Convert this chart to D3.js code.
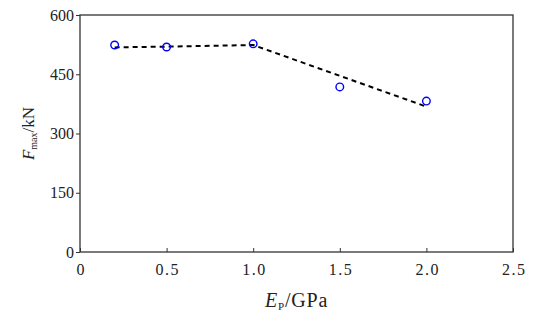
<!DOCTYPE html>
<html><head><meta charset="utf-8">
<script src="https://cdn.jsdelivr.net/npm/d3@7"></script>
<style>body{margin:0;background:#fff}svg{display:block}text{font-family:"Liberation Serif","DejaVu Serif",serif;fill:#222}</style>
</head><body>
<svg id="c" width="549" height="323"></svg>
<script>
const pointX = [0.2, 0.5, 1.0, 1.5, 2.0];
const pointY = [524, 519, 527, 418, 382];
const lineX = [0.2, 0.5, 1.0, 2.0];
const lineY = [518, 520, 524, 368];
const xTicks = [0, 0.5, 1.0, 1.5, 2.0, 2.5];
const yTicks = [0, 150, 300, 450, 600];

const svg = d3.select("#c");
const L = 80, R = 513, T = 15, B = 252;
const x = d3.scaleLinear().domain([0, 2.5]).range([L, R]);
const y = d3.scaleLinear().domain([0, 600]).range([B, T]);

// frame
svg.append("rect").attr("x", L).attr("y", T).attr("width", R - L).attr("height", B - T)
  .attr("fill", "none").attr("stroke", "#333").attr("stroke-width", 1.3);

// x axis (ticks inward)
const xa = svg.append("g").attr("transform", `translate(0,${B})`)
  .call(d3.axisBottom(x).tickValues(xTicks).tickSizeInner(-4).tickSizeOuter(0).tickPadding(12)
    .tickFormat(d => d === 0 ? "0" : d3.format(".1f")(d)));
xa.select(".domain").remove();
xa.selectAll("line").attr("stroke", "#333");
xa.selectAll("text").attr("font-size", 16).attr("fill", "#222").attr("letter-spacing", 1.5).attr("dx", 0.75);

// y axis (ticks outward)
const ya = svg.append("g").attr("transform", `translate(${L},0)`)
  .call(d3.axisLeft(y).tickValues(yTicks).tickSizeInner(4).tickSizeOuter(0).tickPadding(2));
ya.select(".domain").remove();
ya.selectAll("line").attr("stroke", "#333");
ya.selectAll("text").attr("font-size", 16).attr("fill", "#222");

// dashed line
svg.append("path").datum(lineX.map((v, i) => [v, lineY[i]]))
  .attr("d", d3.line().x(d => x(d[0])).y(d => y(d[1])))
  .attr("fill", "none").attr("stroke", "#000").attr("stroke-width", 2).attr("stroke-dasharray", "5,4");

// points
svg.selectAll("circle.p").data(pointX.map((v, i) => [v, pointY[i]])).enter().append("circle")
  .attr("cx", d => x(d[0])).attr("cy", d => y(d[1])).attr("r", 3.8)
  .attr("fill", "none").attr("stroke", "#0000ff").attr("stroke-width", 1.4);

// axis titles
const xt = svg.append("text").attr("x", (L + R) / 2).attr("y", 307).attr("text-anchor", "middle").attr("font-size", 20).attr("letter-spacing", 0.8);
xt.append("tspan").attr("font-style", "italic").text("E");
xt.append("tspan").attr("font-size", 11).attr("dy", 3).text("P");
xt.append("tspan").attr("dy", -3).text("/GPa");

const yt = svg.append("text").attr("transform", `translate(34,${(T + B) / 2}) rotate(-90)`)
  .attr("text-anchor", "middle").attr("font-size", 17);
yt.append("tspan").attr("font-style", "italic").text("F");
yt.append("tspan").attr("font-size", 10).attr("dy", 3).text("max");
yt.append("tspan").attr("dy", -3).text("/kN");
</script>
</body></html>
